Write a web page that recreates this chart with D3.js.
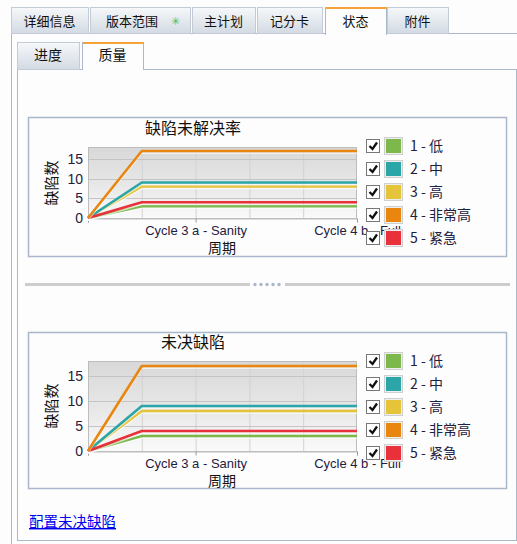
<!DOCTYPE html>
<html><head><meta charset="utf-8">
<script src="https://cdn.jsdelivr.net/npm/d3@7"></script>
<style>
html,body{margin:0;padding:0;background:#fdfdfd;}
svg{display:block;}
</style></head>
<body>
<svg id="c" width="517" height="544"></svg>
<script>
// ---- data ----
const mainTabs = ["详细信息", "版本范围", "主计划", "记分卡", "状态", "附件"];
const subTabs = ["进度", "质量"];
const chartTitles = ["缺陷未解决率", "未决缺陷"];
const yAxisLabel = "缺陷数";
const xAxisLabel = "周期";
const linkText = "配置未决缺陷";
const xIndex = [0, 1, 2, 3, 4, 5];
const xTickIndex = [0, 2, 5];
const xTickLabels = ["", "Cycle 3 a - Sanity", "Cycle 4 b - Full"];
const yTicks = [0, 5, 10, 15];
const seriesNames = ["1 - 低", "2 - 中", "3 - 高", "4 - 非常高", "5 - 紧急"];
const seriesColors = ["#7cb84c", "#2aa5a8", "#e5c43a", "#e8860f", "#e8313a"];
const valuesLow = [0, 3, 3, 3, 3, 3];
const valuesMedium = [0, 9, 9, 9, 9, 9];
const valuesHigh = [0, 8, 8, 8, 8, 8];
const valuesVeryHigh = [0, 17, 17, 17, 17, 17];
const valuesUrgent = [0, 4, 4, 4, 4, 4];
const drawOrder = [0, 2, 1, 4, 3]; // green, yellow, teal, red, orange

const allValues = [valuesLow, valuesMedium, valuesHigh, valuesVeryHigh, valuesUrgent];

const svg = d3.select("#c");
const cjk = "'Noto Sans CJK SC','Noto Sans',sans-serif";
const lat = "'Liberation Sans',Arial,sans-serif";

const defs = svg.append("defs");
const tg = defs.append("linearGradient").attr("id","tabg").attr("x1",0).attr("y1",0).attr("x2",0).attr("y2",1);
tg.append("stop").attr("offset","0%").attr("stop-color","#f6f8fa");
tg.append("stop").attr("offset","100%").attr("stop-color","#d3dae3");
const pg = defs.append("linearGradient").attr("id","plotg").attr("x1",0).attr("y1",0).attr("x2",0).attr("y2",1);
pg.append("stop").attr("offset","0%").attr("stop-color","#d8d8d8");
pg.append("stop").attr("offset","55%").attr("stop-color","#e8e8e8");
pg.append("stop").attr("offset","100%").attr("stop-color","#fafafa");

const border = "#a9b9cb";

// ---- outer panel ----
svg.append("rect").attr("x",11.5).attr("y",33.5).attr("width",520).attr("height",520)
  .attr("fill","#fdfdfd").attr("stroke",border);

// main tabs
const tabX = [11, 90, 192, 257, 325, 387];
const tabW = [77, 100, 63, 65, 61, 61];
const activeMain = 4;
mainTabs.forEach((t,i)=>{
  const g = svg.append("g");
  const act = i===activeMain;
  g.append("rect").attr("x",tabX[i]+0.5).attr("y",7.5).attr("width",tabW[i]).attr("height",act?27:26)
    .attr("fill",act?"#fdfdfd":"url(#tabg)").attr("stroke",act?border:"#c3ccd6");
  if(act){
    g.append("rect").attr("x",tabX[i]+1).attr("y",33).attr("width",tabW[i]-1).attr("height",2).attr("fill","#fdfdfd");
    g.append("rect").attr("x",tabX[i]+1).attr("y",7).attr("width",tabW[i]).attr("height",2).attr("fill","#f5a43c");
  }
  const cx = tabX[i] + tabW[i]/2 + (i===1?-8:0);
  g.append("text").attr("x",cx).attr("y",26).attr("text-anchor","middle")
    .attr("font-family",cjk).attr("font-size",13).attr("fill","#111").text(t);
  if(i===1){
    g.append("text").attr("x",175).attr("y",25).attr("text-anchor","middle")
      .attr("font-family",lat).attr("font-size",11).attr("fill","#4cbf4c").text("✳");
  }
});

// inner panel
svg.append("rect").attr("x",17.5).attr("y",69.5).attr("width",499).attr("height",471)
  .attr("fill","#fdfdfd").attr("stroke",border);
const subX = [17, 82], subW = [62, 61];
subTabs.forEach((t,i)=>{
  const act = i===1;
  svg.append("rect").attr("x",subX[i]+0.5).attr("y",42.5).attr("width",subW[i]).attr("height",27)
    .attr("fill",act?"#fdfdfd":"url(#tabg)").attr("stroke",act?border:"#c3ccd6");
  if(act){
    svg.append("rect").attr("x",subX[i]+1).attr("y",69).attr("width",subW[i]-1).attr("height",2).attr("fill","#fdfdfd");
    svg.append("rect").attr("x",subX[i]+1).attr("y",42).attr("width",subW[i]).attr("height",2).attr("fill","#f5a43c");
  }
  svg.append("text").attr("x",subX[i]+subW[i]/2).attr("y",60).attr("text-anchor","middle")
    .attr("font-family",cjk).attr("font-size",14).attr("fill","#111").text(t);
});

// separator
svg.append("rect").attr("x",25).attr("y",283).attr("width",225).attr("height",3).attr("fill","#cdcdcd");
svg.append("rect").attr("x",285).attr("y",283).attr("width",225).attr("height",3).attr("fill","#cdcdcd");
[255,261,267,273,279].forEach(x=>svg.append("circle").attr("cx",x).attr("cy",284.5).attr("r",1.7).attr("fill","#a9b7c8"));

// link
svg.append("text").attr("x",29).attr("y",527).attr("font-family",cjk).attr("font-size",14.5)
  .attr("fill","#0000ee").attr("text-decoration","underline").text(linkText);

// ---- charts ----
const charts = [
  {box:[28,117,478,139], plot:[88,357,147,218], title:134, xt:235, xl:253, yl:183, leg:146},
  {box:[28,332,478,156], plot:[88,357,361,451], title:348, xt:468, xl:486, yl:406, leg:361}
];

charts.forEach((c,ci)=>{
  const g = svg.append("g");
  g.append("rect").attr("x",c.box[0]+0.5).attr("y",c.box[1]+0.5).attr("width",c.box[2]).attr("height",c.box[3])
    .attr("fill","#fdfdfd").attr("stroke",border).attr("stroke-width",1.5);
  const [x0,x1,y0,y1] = c.plot;
  const x = d3.scaleLinear().domain([0,5]).range([x0,x1]);
  const y = d3.scaleLinear().domain([0,18]).range([y1,y0]);
  g.append("rect").attr("x",x0).attr("y",y0).attr("width",x1-x0).attr("height",y1-y0).attr("fill","url(#plotg)");
  // grid
  g.selectAll(".vg").data(xIndex.slice(1,5)).join("line")
    .attr("x1",d=>x(d)+0.5).attr("x2",d=>x(d)+0.5).attr("y1",y0).attr("y2",y1)
    .attr("stroke","#d2d2d2").attr("stroke-width",1);
  g.selectAll(".hg").data(yTicks.slice(1)).join("line")
    .attr("x1",x0).attr("x2",x1).attr("y1",d=>Math.round(y(d))+0.5).attr("y2",d=>Math.round(y(d))+0.5)
    .attr("stroke","#c4c4c4").attr("stroke-width",1);
  g.append("rect").attr("x",x0+0.5).attr("y",y0+0.5).attr("width",x1-x0-1).attr("height",y1-y0)
    .attr("fill","none").attr("stroke","#bdbdbd");
  // axes
  const xa = d3.axisBottom(x).tickValues(xTickIndex).tickFormat((d,i)=>xTickLabels[i]).tickSize(4).tickPadding(6);
  const xg = g.append("g").attr("transform",`translate(0,${y1+0.5})`).call(xa);
  xg.select(".domain").attr("stroke","#bdbdbd");
  xg.selectAll(".tick line").attr("stroke","#999");
  xg.selectAll(".tick text").attr("font-family",lat).attr("font-size",13).attr("fill","#1e2040")
    .attr("y",null).attr("dy",null).attr("transform",`translate(0,${c.xt - y1 - 0.5})`);
  const ya = d3.axisLeft(y).tickValues(yTicks).tickSize(0).tickPadding(5);
  const yg = g.append("g").attr("transform",`translate(${x0},0)`).call(ya);
  yg.select(".domain").remove();
  yg.selectAll(".tick text").attr("font-family",lat).attr("font-size",14).attr("fill","#1e2040");
  // titles
  g.append("text").attr("x",193).attr("y",c.title).attr("text-anchor","middle")
    .attr("font-family",cjk).attr("font-size",16).attr("fill","#111").text(chartTitles[ci]);
  g.append("text").attr("x",222).attr("y",c.xl).attr("text-anchor","middle")
    .attr("font-family",cjk).attr("font-size",14).attr("fill","#111").text(xAxisLabel);
  g.append("text").attr("transform",`translate(57,${c.yl}) rotate(-90)`).attr("text-anchor","middle")
    .attr("font-family",cjk).attr("font-size",15).attr("fill","#111").text(yAxisLabel);
  // lines
  const line = d3.line().x((d,i)=>x(xIndex[i])).y(d=>y(d));
  drawOrder.forEach(si=>{
    g.append("path").attr("d",line(allValues[si])).attr("fill","none")
      .attr("stroke","#ffffff").attr("stroke-opacity",0.6).attr("stroke-width",1.5)
      .attr("transform","translate(0,2.2)");
    g.append("path").attr("d",line(allValues[si])).attr("fill","none")
      .attr("stroke",seriesColors[si]).attr("stroke-width",2.6).attr("stroke-linejoin","round");
  });
  // legend
  seriesNames.forEach((n,i)=>{
    const ly = c.leg + i*23;
    g.append("rect").attr("x",366.5).attr("y",ly-6.5).attr("width",13).attr("height",13)
      .attr("fill","#fff").attr("stroke","#777");
    g.append("path").attr("d",`M369.5,${ly} L372.5,${ly+3} L377,${ly-3.5}`).attr("fill","none")
      .attr("stroke","#111").attr("stroke-width",2.3);
    g.append("rect").attr("x",384.5).attr("y",ly-8.5).attr("width",18).attr("height",17)
      .attr("fill","#eeeeee").attr("stroke","#cfcfcf");
    g.append("rect").attr("x",386).attr("y",ly-7).attr("width",15).attr("height",14).attr("fill",seriesColors[i]);
    g.append("text").attr("x",410).attr("y",ly+5).attr("font-family",cjk).attr("font-size",14)
      .attr("fill","#1e2040").text(n);
  });
});
</script>
</body></html>
